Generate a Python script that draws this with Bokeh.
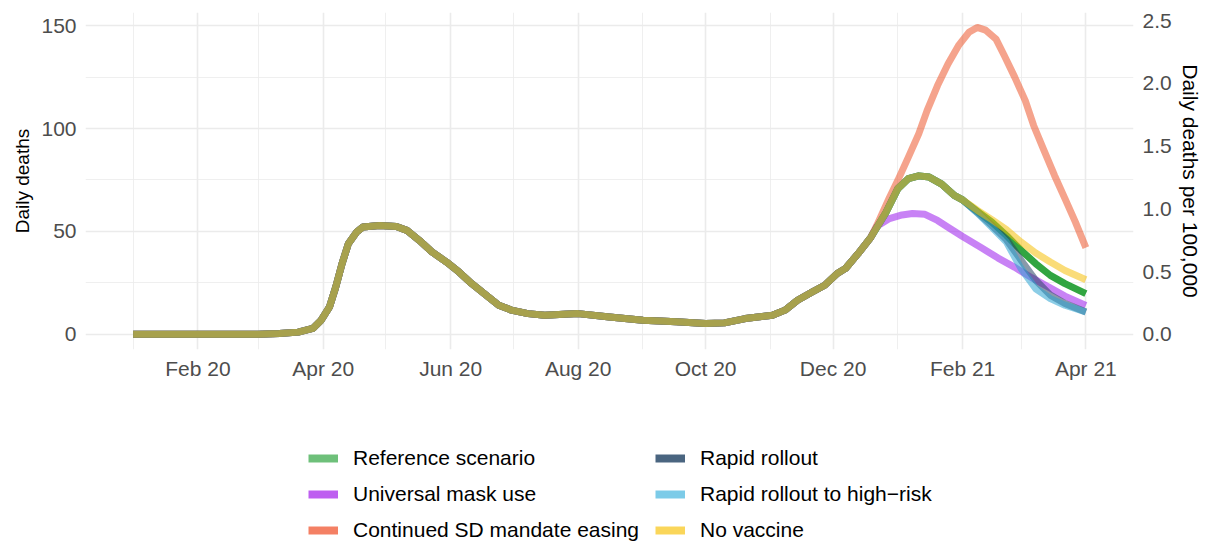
import pandas as pd
from bokeh.plotting import figure
from bokeh.layouts import column
from bokeh.models import (Range1d, LinearAxis, FixedTicker, DatetimeTickFormatter,
                          PrintfTickFormatter, Legend, LegendItem)
from bokeh.embed import file_html
from bokeh.resources import INLINE

# ---------------- data ----------------
common_dates = ["2020-01-01", "2020-02-01", "2020-03-01", "2020-03-11", "2020-03-20",
                "2020-03-27", "2020-03-31", "2020-04-04", "2020-04-07", "2020-04-10",
                "2020-04-13", "2020-04-17", "2020-04-20", "2020-04-28", "2020-05-06",
                "2020-05-11", "2020-05-17", "2020-05-23", "2020-05-30", "2020-06-05",
                "2020-06-11", "2020-06-18", "2020-06-24", "2020-06-30", "2020-07-08",
                "2020-07-16", "2020-08-01", "2020-08-16", "2020-09-01", "2020-09-17",
                "2020-10-01", "2020-10-10", "2020-10-20", "2020-11-02", "2020-11-08",
                "2020-11-14", "2020-11-21", "2020-11-27", "2020-12-03", "2020-12-07",
                "2020-12-13", "2020-12-19"]
common_deaths = [0, 0, 0, 0.3, 1, 2.8, 6.8, 13.3, 23, 34.3,
                 44, 49.7, 52.1, 52.9, 52.4, 50.5, 45.6, 40, 35.1, 30.2,
                 24.6, 18.9, 14.1, 11.7, 10, 9.2, 10, 8.4, 6.8, 6,
                 5.2, 5.5, 7.6, 9.2, 11.7, 16.5, 20.5, 23.8, 29.5, 32,
                 39.2, 47]

ref_mid_dates = ["2020-12-26", "2021-01-01", "2021-01-06", "2021-01-11", "2021-01-16",
                 "2021-01-22", "2021-01-28", "2021-02-01"]
ref_mid_deaths = [58.6, 70.8, 75.6, 77, 76.4, 73, 67.5, 65.3]

late_dates = ["2021-02-08", "2021-02-15", "2021-02-22", "2021-03-01", "2021-03-08",
              "2021-03-15", "2021-03-22", "2021-04-01"]
reference_late = [59.8, 54.5, 48, 40.8, 34.3, 28.6, 24.6, 19.7]
rapid_late = [59.2, 52.9, 46, 36, 26.2, 19, 14.9, 10.8]
highrisk_late = [59, 52, 44.8, 31.9, 22.1, 17.3, 14.1, 10.8]
novaccine_late = [60.3, 55.7, 50.8, 44.8, 39.5, 35.1, 31, 26.5]

mask_dates = ["2020-12-22", "2020-12-28", "2021-01-03", "2021-01-08", "2021-01-14",
              "2021-01-20", "2021-01-25", "2021-02-01", "2021-02-10", "2021-02-18",
              "2021-02-26", "2021-03-06", "2021-03-14", "2021-03-22", "2021-04-01"]
mask_deaths = [52.5, 56.2, 58, 58.7, 58.3, 55.3, 52, 47.5, 42, 37,
               32.5, 27.5, 23, 18.5, 14]

easing_dates = ["2020-12-22", "2020-12-28", "2021-01-01", "2021-01-06", "2021-01-11",
                "2021-01-15", "2021-01-20", "2021-01-25", "2021-01-30", "2021-02-04",
                "2021-02-08", "2021-02-12", "2021-02-17", "2021-02-21", "2021-02-26",
                "2021-03-03", "2021-03-07", "2021-03-12", "2021-03-17", "2021-03-22",
                "2021-03-27", "2021-04-01"]
easing_deaths = [53, 66.5, 74.8, 86, 97.4, 108.7, 120.9, 131.4, 140.3, 146.8,
                 149.2, 147.9, 143.5, 135.4, 124.9, 113.6, 101.5, 89.3, 77.2, 65.9,
                 54.5, 42.1]

scenario_names = ["Reference scenario", "Universal mask use", "Continued SD mandate easing",
                  "Rapid rollout", "Rapid rollout to high\u2212risk", "No vaccine"]

major_dates = ["2020-02-01", "2020-04-01", "2020-06-01", "2020-08-01", "2020-10-01",
               "2020-12-01", "2021-02-01", "2021-04-01"]
minor_dates = ["2020-01-01", "2020-03-01", "2020-05-01", "2020-07-01", "2020-09-01",
               "2020-11-01", "2021-01-01", "2021-03-01"]
left_ticks = [0, 50, 100, 150]
left_minor = [25, 75, 125]
right_ticks = [0.0, 0.5, 1.0, 1.5, 2.0, 2.5]
per100k_factor = 2.5 / 152.4   # deaths -> deaths per 100,000

# ---------------- build series ----------------
def ts(lst):
    return list(pd.to_datetime(lst))

series = {
    "Reference scenario": (common_dates + ref_mid_dates + late_dates,
                           common_deaths + ref_mid_deaths + reference_late),
    "Universal mask use": (common_dates + mask_dates, common_deaths + mask_deaths),
    "Continued SD mandate easing": (common_dates + easing_dates, common_deaths + easing_deaths),
    "Rapid rollout": (common_dates + ref_mid_dates + late_dates,
                      common_deaths + ref_mid_deaths + rapid_late),
    "Rapid rollout to high\u2212risk": (common_dates + ref_mid_dates + late_dates,
                                     common_deaths + ref_mid_deaths + highrisk_late),
    "No vaccine": (common_dates + ref_mid_dates + late_dates,
                   common_deaths + ref_mid_deaths + novaccine_late),
}

line_colors = ["#1b9b2c", "#9b1ced", "#ed582e", "#284664", "#2ea4d2", "#f6bf0a"]
line_alphas = [0.9, 0.55, 0.55, 0.55, 0.55, 0.55]
key_colors = ["#6ec07a", "#be5ff0", "#f48064", "#4a6580", "#7ccbe8", "#fad65a"]

FONT = "Liberation Sans"

t0 = pd.Timestamp("2020-01-01")
t1 = pd.Timestamp("2021-04-01")
pad = (t1 - t0) * 0.05
ymin, ymax = -7.45, 156.45

p = figure(width=1204, height=440, x_axis_type="datetime",
           x_range=Range1d(t0 - pad, t1 + pad), y_range=Range1d(ymin, ymax),
           output_backend="svg", toolbar_location=None,
           min_border_left=85, min_border_right=68, min_border_top=12,
           min_border_bottom=91)
p.outline_line_color = None
p.background_fill_color = "white"

p.extra_y_ranges = {"pc": Range1d(ymin * per100k_factor, ymax * per100k_factor)}

def ms(lst):
    return [pd.Timestamp(d).value / 1e6 for d in lst]

xticker = FixedTicker(ticks=ms(major_dates), minor_ticks=ms(minor_dates))
p.xaxis.ticker = xticker
p.xaxis.formatter = DatetimeTickFormatter(
    milliseconds="%b %y", seconds="%b %y", minsec="%b %y", minutes="%b %y",
    hourmin="%b %y", hours="%b %y", days="%b %y", months="%b %y", years="%b %y")
yticker = FixedTicker(ticks=left_ticks, minor_ticks=left_minor)
p.yaxis.ticker = yticker
p.yaxis.axis_label = "Daily deaths"

raxis = LinearAxis(y_range_name="pc", ticker=FixedTicker(ticks=right_ticks),
                   formatter=PrintfTickFormatter(format="%.1f"),
                   axis_label="Daily deaths per 100,000")
p.add_layout(raxis, "right")

for ax in [p.xaxis[0], p.yaxis[0], raxis]:
    ax.axis_line_color = None
    ax.major_tick_line_color = None
    ax.minor_tick_line_color = None
    ax.major_tick_out = 0
    ax.major_tick_in = 0
    ax.minor_tick_out = 0
    ax.minor_tick_in = 0
    ax.major_label_text_font = FONT
    ax.major_label_text_font_size = "21px"
    ax.major_label_text_color = "#4d4d4d"
    ax.axis_label_text_font = FONT
    ax.axis_label_text_font_style = "normal"
    ax.axis_label_text_color = "black"
    ax.major_label_standoff = 9
p.yaxis.axis_label_text_font_size = "19px"
p.yaxis.axis_label_standoff = 5
raxis.axis_label_text_font_size = "21px"
raxis.axis_label_standoff = 4
p.xaxis.major_label_standoff = 7

p.xgrid.ticker = xticker
p.ygrid.ticker = yticker
for g in [p.xgrid[0], p.ygrid[0]]:
    g.grid_line_color = "#ebebeb"
    g.grid_line_width = 1.6
    g.minor_grid_line_color = "#ebebeb"
    g.minor_grid_line_width = 0.8

for name, col, a in zip(scenario_names, line_colors, line_alphas):
    d, v = series[name]
    p.line(ts(d), v, line_color=col, line_alpha=a, line_width=7, line_cap="butt",
           line_join="round")

# ---------------- legend strip below the chart ----------------
# proxy renderers: same series, but this strip's ranges keep them out of view,
# so only their legend keys are visible
lg = figure(width=1204, height=104, x_range=Range1d(0, 1), y_range=Range1d(0, 1),
            output_backend="svg", toolbar_location=None, min_border=0,
            x_axis_location=None, y_axis_location=None)
lg.outline_line_color = None
lg.xgrid.visible = False
lg.ygrid.visible = False

items = []
for name, kc in zip(scenario_names, key_colors):
    d, v = series[name]
    r = lg.line(ts(d), v, line_color=kc, line_width=8, line_cap="butt")
    items.append(LegendItem(label=name, renderers=[r]))

legend = Legend(items=items, orientation="vertical", nrows=3,
                location=(223, 2), border_line_color=None,
                background_fill_alpha=0, padding=0, margin=0,
                glyph_width=30, glyph_height=20, label_height=20, label_width=290,
                label_standoff=15, spacing=12,
                label_text_font=FONT, label_text_font_size="21px",
                label_text_color="black")
lg.add_layout(legend, "center")

layout = column(p, lg, spacing=0)
open("out.html", "w").write(file_html(layout, INLINE))
